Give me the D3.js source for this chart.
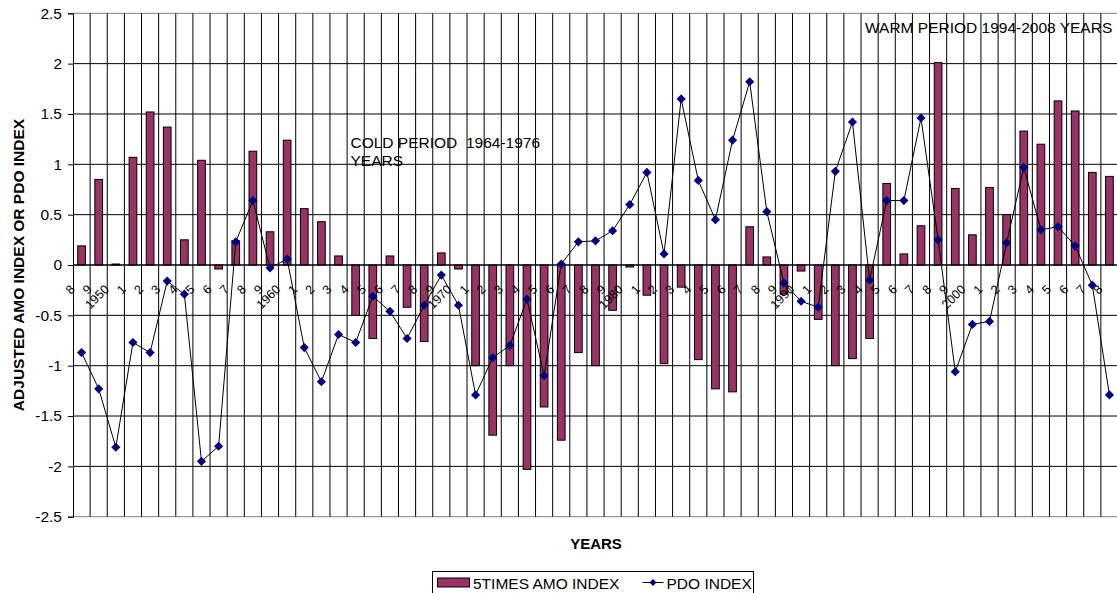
<!DOCTYPE html>
<html>
<head>
<meta charset="utf-8">
<script src="https://cdn.jsdelivr.net/npm/d3@7"></script>
<style>
  html, body { margin: 0; padding: 0; background: #fff; }
  svg { display: block; font-family: Arial, "Liberation Sans", sans-serif; }
  .note { white-space: pre; }
</style>
</head>
<body>
<svg id="chart" width="1117" height="593"></svg>
<script>
// Years on the category axis
const years = [1948, 1949, 1950, 1951, 1952, 1953, 1954, 1955, 1956, 1957,
  1958, 1959, 1960, 1961, 1962, 1963, 1964, 1965, 1966, 1967,
  1968, 1969, 1970, 1971, 1972, 1973, 1974, 1975, 1976, 1977,
  1978, 1979, 1980, 1981, 1982, 1983, 1984, 1985, 1986, 1987,
  1988, 1989, 1990, 1991, 1992, 1993, 1994, 1995, 1996, 1997,
  1998, 1999, 2000, 2001, 2002, 2003, 2004, 2005, 2006, 2007, 2008];

// Short year labels printed under the zero line
const yearLabels = ["8", "9", "1950", "1", "2", "3", "4", "5", "6", "7",
  "8", "9", "1960", "1", "2", "3", "4", "5", "6", "7",
  "8", "9", "1970", "1", "2", "3", "4", "5", "6", "7",
  "8", "9", "1980", "1", "2", "3", "4", "5", "6", "7",
  "8", "9", "1990", "1", "2", "3", "4", "5", "6", "7",
  "8", "9", "2000", "1", "2", "3", "4", "5", "6", "7", "8"];

// AMO index multiplied by five (bars)
const amo5 = [0.19, 0.85, 0.01, 1.07, 1.52, 1.37, 0.25, 1.04, -0.04, 0.24,
  1.13, 0.33, 1.24, 0.56, 0.43, 0.09, -0.50, -0.73, 0.09, -0.42,
  -0.76, 0.12, -0.04, -1.00, -1.69, -1.00, -2.03, -1.41, -1.74, -0.87,
  -1.00, -0.45, -0.02, -0.30, -0.98, -0.22, -0.94, -1.23, -1.26, 0.38,
  0.08, -0.29, -0.06, -0.54, -1.00, -0.93, -0.73, 0.81, 0.11, 0.39,
  2.01, 0.76, 0.30, 0.77, 0.50, 1.33, 1.20, 1.63, 1.53, 0.92, 0.88];

// PDO index (line with diamond markers)
const pdo = [-0.87, -1.23, -1.81, -0.77, -0.87, -0.16, -0.29, -1.95, -1.80, 0.23,
  0.64, -0.03, 0.06, -0.82, -1.16, -0.69, -0.77, -0.31, -0.46, -0.73,
  -0.40, -0.10, -0.40, -1.29, -0.92, -0.80, -0.34, -1.10, 0.01, 0.23,
  0.24, 0.34, 0.60, 0.92, 0.11, 1.65, 0.84, 0.45, 1.24, 1.82,
  0.53, -0.18, -0.36, -0.42, 0.93, 1.42, -0.15, 0.64, 0.64, 1.46,
  0.25, -1.06, -0.59, -0.56, 0.22, 0.97, 0.35, 0.38, 0.19, -0.20, -1.29];

// Value axis ticks
const yTicks = [2.5, 2, 1.5, 1, 0.5, 0, -0.5, -1, -1.5, -2, -2.5];

const seriesNames = ["5TIMES AMO INDEX", "PDO INDEX"];
const notes = [
  { lines: ["COLD PERIOD  1964-1976", "YEARS"], x: 350.5, y: 148 },
  { lines: ["WARM PERIOD 1994-2008 YEARS"], x: 865, y: 33 }
];

const BAR_FILL = "#993366";
const MARKER_FILL = "#000080";

const svg = d3.select("#chart");
const plot = { left: 73, right: 1118, top: 13.3, bottom: 516.7 };

const x = d3.scaleBand().domain(years).range([plot.left, plot.right]).padding(0);
const y = d3.scaleLinear().domain([-2.5, 2.5]).range([plot.bottom, plot.top]);
const barW = x.bandwidth() * 0.45;
const cx = yr => x(yr) + x.bandwidth() / 2;

// Period notes (behind the grid)
notes.forEach(n => {
  const t = svg.append("text")
    .attr("class", "note")
    .attr("x", n.x).attr("y", n.y)
    .attr("font-size", 15.5).attr("fill", "#000");
  n.lines.forEach((ln, k) => {
    t.append("tspan").attr("x", n.x).attr("dy", k === 0 ? 0 : 17.5).text(ln);
  });
});

// Horizontal gridlines
svg.append("g")
  .selectAll("line")
  .data(yTicks)
  .join("line")
  .attr("x1", plot.left).attr("x2", plot.right)
  .attr("y1", d => y(d)).attr("y2", d => y(d))
  .attr("stroke", d => (d === 2.5 || d === -2.5) ? "#808080" : "#000")
  .attr("stroke-width", 1);

// Vertical gridlines at category boundaries
svg.append("g")
  .selectAll("line")
  .data(years.slice(1))
  .join("line")
  .attr("x1", d => x(d)).attr("x2", d => x(d))
  .attr("y1", plot.top).attr("y2", plot.bottom)
  .attr("stroke", "#000")
  .attr("stroke-width", 1);

// Value axis
const yAxis = svg.append("g")
  .attr("transform", `translate(${plot.left},0)`)
  .call(d3.axisLeft(y).tickValues(yTicks).tickSize(5).tickPadding(6)
    .tickFormat(d => String(d)));
yAxis.select(".domain").attr("stroke", "#000");
yAxis.selectAll(".tick line").attr("stroke", "#000");
yAxis.selectAll(".tick text")
  .attr("font-size", 15.5)
  .attr("font-family", "Arial, 'Liberation Sans', sans-serif")
  .attr("fill", "#000");

// AMO bars
svg.append("g")
  .selectAll("rect")
  .data(years)
  .join("rect")
  .attr("x", d => cx(d) - barW / 2)
  .attr("width", barW)
  .attr("y", (d, i) => Math.min(y(amo5[i]), y(0)))
  .attr("height", (d, i) => Math.abs(y(amo5[i]) - y(0)))
  .attr("fill", BAR_FILL)
  .attr("stroke", "#000")
  .attr("stroke-width", 1);

// Zero axis line
svg.append("line")
  .attr("x1", plot.left).attr("x2", plot.right)
  .attr("y1", y(0)).attr("y2", y(0))
  .attr("stroke", "#000").attr("stroke-width", 1);

// Year labels under the zero line, slanted
svg.append("g")
  .selectAll("text")
  .data(years)
  .join("text")
  .attr("transform", (d) => `translate(${cx(d) - 6},${y(0) + 25}) rotate(-45)`)
  .attr("text-anchor", "end")
  .attr("font-size", 12.5)
  .attr("fill", "#000")
  .text((d, i) => yearLabels[i]);

// PDO line
const line = d3.line()
  .x((d, i) => cx(years[i]))
  .y(d => y(d));
svg.append("path")
  .datum(pdo)
  .attr("d", line)
  .attr("fill", "none")
  .attr("stroke", "#000")
  .attr("stroke-width", 1);

// PDO diamond markers
const diamond = d3.symbol().type(d3.symbolSquare).size(42);
svg.append("g")
  .selectAll("path")
  .data(pdo)
  .join("path")
  .attr("d", diamond)
  .attr("transform", (d, i) => `translate(${cx(years[i])},${y(d)}) rotate(45)`)
  .attr("fill", MARKER_FILL);

// Axis titles
svg.append("text")
  .attr("transform", `translate(24,${(plot.top + plot.bottom) / 2}) rotate(-90)`)
  .attr("text-anchor", "middle")
  .attr("font-size", 15.5).attr("font-weight", "bold")
  .text("ADJUSTED AMO INDEX OR PDO INDEX");

svg.append("text")
  .attr("x", 596).attr("y", 549)
  .attr("text-anchor", "middle")
  .attr("font-size", 15).attr("font-weight", "bold")
  .text("YEARS");

// Legend
const lg = svg.append("g").attr("transform", "translate(432.5,571.5)");
lg.append("rect")
  .attr("width", 321).attr("height", 30)
  .attr("fill", "#fff").attr("stroke", "#000").attr("stroke-width", 1);
lg.append("rect")
  .attr("x", 5).attr("y", 6.5).attr("width", 32).attr("height", 9)
  .attr("fill", BAR_FILL).attr("stroke", "#000").attr("stroke-width", 1);
lg.append("text")
  .attr("x", 40.5).attr("y", 17)
  .attr("font-size", 15.5).text(seriesNames[0]);
lg.append("line")
  .attr("x1", 210).attr("x2", 231).attr("y1", 11).attr("y2", 11)
  .attr("stroke", "#000").attr("stroke-width", 1);
lg.append("path")
  .attr("d", d3.symbol().type(d3.symbolSquare).size(24))
  .attr("transform", "translate(220.5,11) rotate(45)")
  .attr("fill", MARKER_FILL);
lg.append("text")
  .attr("x", 234).attr("y", 17)
  .attr("font-size", 15.5).text(seriesNames[1]);
</script>
</body>
</html>
